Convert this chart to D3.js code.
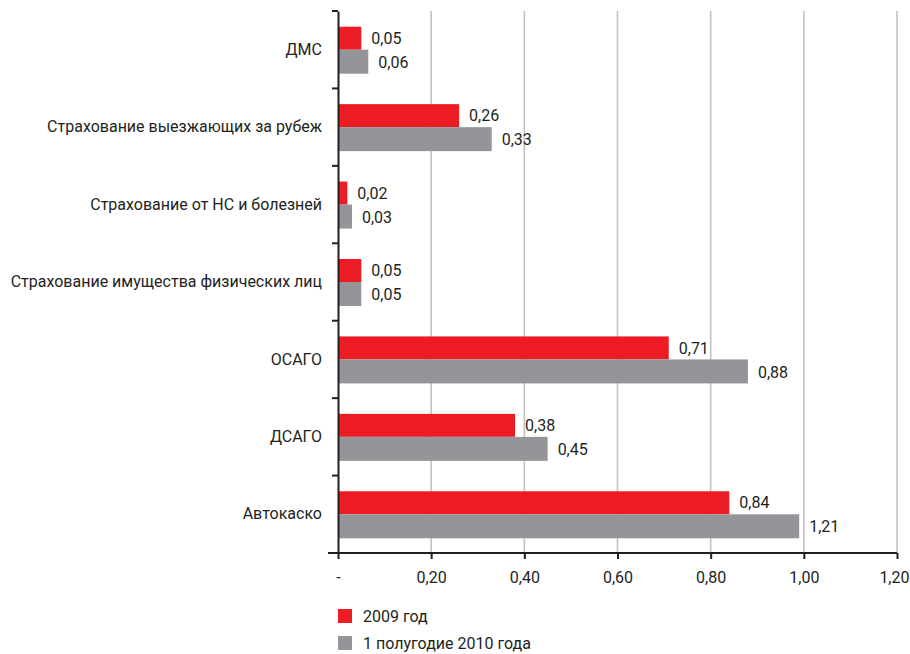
<!DOCTYPE html>
<html>
<head>
<meta charset="utf-8">
<script src="https://cdn.jsdelivr.net/npm/d3@7"></script>
<style>
  body { margin: 0; background: #fff; }
  text { font-family: Roboto, "Open Sans", sans-serif; fill: #231f20; }
</style>
</head>
<body>
<svg id="chart" width="910" height="654"></svg>
<script>
// Categories, top to bottom
const categories = [
    "ДМС",
    "Страхование выезжающих за рубеж",
    "Страхование от НС и болезней",
    "Страхование имущества физических лиц",
    "ОСАГО",
    "ДСАГО",
    "Автокаско"
];
const seriesNames = ["2009 год", "1 полугодие 2010 года"];

// Bar lengths as drawn in the picture
const values2009 = [0.05, 0.26, 0.02, 0.05, 0.71, 0.38, 0.84];
const values2010 = [0.065, 0.33, 0.03, 0.05, 0.88, 0.45, 0.99];

// Labels as printed next to bars
const labels2009 = ["0,05", "0,26", "0,02", "0,05", "0,71", "0,38", "0,84"];
const labels2010 = ["0,06", "0,33", "0,03", "0,05", "0,88", "0,45", "1,21"];

const xTicks = [0, 0.2, 0.4, 0.6, 0.8, 1.0, 1.2];

const colors = ["#ed1c24", "#939598"];

const svg = d3.select("#chart"),
    margin = { top: 11, right: 12, bottom: 101, left: 338 },
    width = +svg.attr("width") - margin.left - margin.right,
    height = +svg.attr("height") - margin.top - margin.bottom,
    g = svg.append("g").attr("transform", `translate(${margin.left},${margin.top})`);

const x = d3.scaleLinear().domain([0, 1.2]).range([0, 559]);
const y = d3.scaleBand().domain(categories).range([0, height]);
const barH = 23;

// Gridlines
g.append("g")
    .selectAll("line")
    .data(xTicks.slice(1))
    .enter().append("line")
    .attr("x1", d => x(d)).attr("x2", d => x(d))
    .attr("y1", 0).attr("y2", height)
    .attr("stroke", "#c2c2c4")
    .attr("stroke-width", 1.6);

// Bars
const rows = g.selectAll(".row")
    .data(categories)
    .enter().append("g")
    .attr("class", "row")
    .attr("transform", d => `translate(0,${y(d) + y.bandwidth() / 2})`);

rows.append("rect")
    .attr("x", 0)
    .attr("y", -barH)
    .attr("width", (d, i) => x(values2009[i]))
    .attr("height", barH)
    .attr("fill", colors[0]);

rows.append("rect")
    .attr("x", 0)
    .attr("y", 0)
    .attr("width", (d, i) => x(values2010[i]))
    .attr("height", barH + 1)
    .attr("fill", colors[1]);

rows.append("text")
    .attr("x", (d, i) => x(values2009[i]) + 10)
    .attr("y", -barH / 2)
    .attr("dy", "0.35em")
    .style("font-size", "16px")
    .text((d, i) => labels2009[i]);

rows.append("text")
    .attr("x", (d, i) => x(values2010[i]) + 10)
    .attr("y", barH / 2 + 1)
    .attr("dy", "0.35em")
    .style("font-size", "16px")
    .text((d, i) => labels2010[i]);

// Y axis
const yAxis = g.append("g")
    .call(d3.axisLeft(y).tickSize(0).tickPadding(16));
yAxis.select(".domain").attr("stroke", "#231f20").attr("stroke-width", 2);
yAxis.selectAll("text").style("font-size", "16px").attr("fill", "#231f20");

// Category boundary ticks
g.append("g")
    .selectAll("line")
    .data(d3.range(categories.length + 1))
    .enter().append("line")
    .attr("x1", -6).attr("x2", 0)
    .attr("y1", i => i * y.step()).attr("y2", i => i * y.step())
    .attr("stroke", "#231f20")
    .attr("stroke-width", 2);

// X axis
const xAxis = g.append("g")
    .attr("transform", `translate(0,${height})`)
    .call(d3.axisBottom(x)
        .tickValues(xTicks)
        .tickSize(6)
        .tickPadding(13)
        .tickFormat(d => d === 0 ? "-" : d3.format(".2f")(d).replace(".", ",")));
xAxis.select(".domain").attr("stroke", "#231f20").attr("stroke-width", 2).attr("d", `M-10,0H${x(1.2)}`);
xAxis.selectAll(".tick line").attr("stroke", "#231f20").attr("stroke-width", 2);
xAxis.selectAll("text").style("font-size", "16px").attr("fill", "#231f20");
// keep the last label inside the frame
xAxis.selectAll(".tick text").filter(d => d === 1.2)
    .attr("text-anchor", "end").attr("x", 12);

// Legend
const legend = svg.selectAll(".legend")
    .data(seriesNames)
    .enter().append("g")
    .attr("class", "legend")
    .attr("transform", (d, i) => `translate(338,${609 + i * 27})`);

legend.append("rect")
    .attr("width", 14)
    .attr("height", 14)
    .attr("fill", (d, i) => colors[i]);

legend.append("text")
    .attr("x", 25)
    .attr("y", 7)
    .attr("dy", "0.35em")
    .style("font-size", "16px")
    .text(d => d);
</script>
</body>
</html>
